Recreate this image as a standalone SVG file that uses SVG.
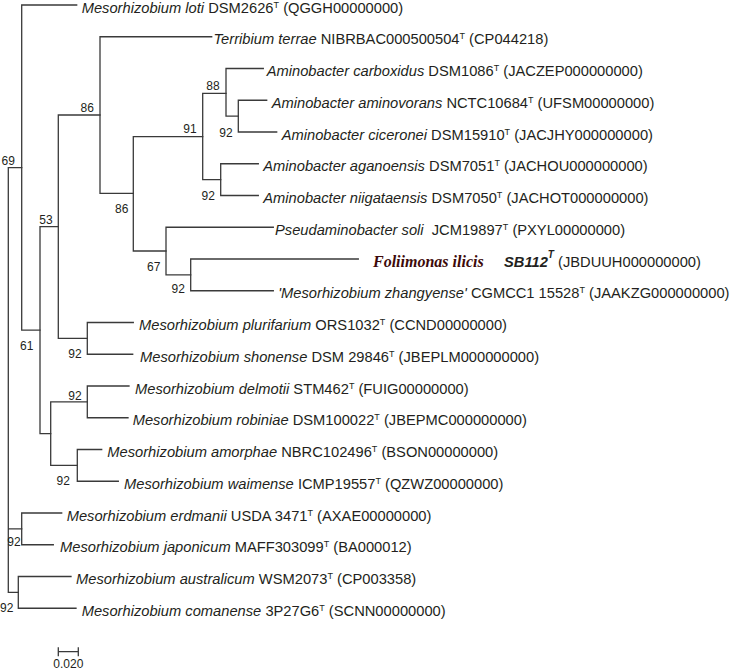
<svg xmlns="http://www.w3.org/2000/svg" width="735" height="671" viewBox="0 0 735 671">
<style>
.br{fill:none;stroke:#3a3a3a;stroke-width:1.3;stroke-linecap:square}
.tx{font-family:"Liberation Sans",Arial,sans-serif;font-size:14.7px;fill:#231f20}
.it{font-style:italic}
.sup{font-size:9px}
.bs{font-family:"Liberation Sans",Arial,sans-serif;font-size:12px;fill:#231f20;text-anchor:middle}
.fol{font-family:"Liberation Serif","Times New Roman",serif;font-size:16px;font-weight:bold;font-style:italic;fill:#3d0a0a}
.bi{font-weight:bold;font-style:italic}
</style>
<rect width="735" height="671" fill="#ffffff"/>
<g id="connectors">
<path class="br" d="M8.3,167.6V592.4M8.3,167.6H21.7M8.3,528.9H21.7M8.3,592.4H18.3"/>
<path class="br" d="M21.7,5V330.2M21.7,5H76.7M21.7,330.2H40"/>
<path class="br" d="M40,226.7V433.6M40,226.7H58.3M40,433.6H50.7"/>
<path class="br" d="M58.3,115V338.4M58.3,115H100M58.3,338.4H87.3"/>
<path class="br" d="M100,36.75V193.3M100,36.75H211.7M100,193.3H133.3"/>
<path class="br" d="M133.3,136.7V251M133.3,136.7H202.7M133.3,251H166"/>
<path class="br" d="M202.7,93.3V179.6M202.7,93.3H226M202.7,179.6H220.7"/>
<path class="br" d="M226,68.5V116.1M226,68.5H263.3M226,116.1H238.3"/>
<path class="br" d="M238.3,100.25V132M238.3,100.25H266.7M238.3,132H276.7"/>
<path class="br" d="M220.7,163.75V195.5M220.7,163.75H258.3M220.7,195.5H258.3"/>
<path class="br" d="M166,227.25V274.9M166,227.25H273.3M166,274.9H190.7"/>
<path class="br" d="M190.7,259V290.75M190.7,259H358.3M190.7,290.75H273.3"/>
<path class="br" d="M87.3,322.5V354.25M87.3,322.5H133.3M87.3,354.25H132.7"/>
<path class="br" d="M50.7,401.9V465.4M50.7,401.9H87.3M50.7,465.4H77.3"/>
<path class="br" d="M87.3,386V417.75M87.3,386H129M87.3,417.75H128"/>
<path class="br" d="M77.3,449.5V481.25M77.3,449.5H101.7M77.3,481.25H118.3"/>
<path class="br" d="M21.7,513V544.75M21.7,513H61.7M21.7,544.75H53.3"/>
<path class="br" d="M18.3,576.5V608.25M18.3,576.5H71M18.3,608.25H76"/>
</g>
<g id="bootstrap">
<text class="bs" x="8.3" y="165">69</text>
<text class="bs" x="87.3" y="112.3">86</text>
<text class="bs" x="213" y="90">88</text>
<text class="bs" x="190" y="133.3">91</text>
<text class="bs" x="226" y="136.7">92</text>
<text class="bs" x="121.7" y="213">86</text>
<text class="bs" x="208.3" y="200">92</text>
<text class="bs" x="46" y="224.3">53</text>
<text class="bs" x="153.7" y="270.7">67</text>
<text class="bs" x="178.3" y="293.3">92</text>
<text class="bs" x="26.7" y="350">61</text>
<text class="bs" x="75" y="358.3">92</text>
<text class="bs" x="75" y="399.5">92</text>
<text class="bs" x="63.3" y="485">92</text>
<text class="bs" x="14" y="546">92</text>
<text class="bs" x="6.7" y="611.7">92</text>
</g>
<g id="loti"><text class="tx" x="81.7" y="12.5"><tspan class="it">Mesorhizobium loti</tspan> DSM2626<tspan class="sup" dy="-5">T</tspan><tspan dy="5"> (QGGH00000000)</tspan></text></g>
<g id="terrae"><text class="tx" x="213.5" y="44.25"><tspan class="it">Terribium terrae</tspan> NIBRBAC000500504<tspan class="sup" dy="-5">T</tspan><tspan dy="5"> (CP044218)</tspan></text></g>
<g id="carboxidus"><text class="tx" x="266.7" y="76"><tspan class="it">Aminobacter carboxidus</tspan> DSM1086<tspan class="sup" dy="-5">T</tspan><tspan dy="5"> (JACZEP000000000)</tspan></text></g>
<g id="aminovorans"><text class="tx" x="271.7" y="107.75"><tspan class="it">Aminobacter aminovorans</tspan> NCTC10684<tspan class="sup" dy="-5">T</tspan><tspan dy="5"> (UFSM00000000)</tspan></text></g>
<g id="ciceronei"><text class="tx" x="281.7" y="139.5"><tspan class="it">Aminobacter ciceronei</tspan> DSM15910<tspan class="sup" dy="-5">T</tspan><tspan dy="5"> (JACJHY000000000)</tspan></text></g>
<g id="aganoensis"><text class="tx" x="263.3" y="171.25"><tspan class="it">Aminobacter aganoensis</tspan> DSM7051<tspan class="sup" dy="-5">T</tspan><tspan dy="5"> (JACHOU000000000)</tspan></text></g>
<g id="niigataensis"><text class="tx" x="263.3" y="203"><tspan class="it">Aminobacter niigataensis</tspan> DSM7050<tspan class="sup" dy="-5">T</tspan><tspan dy="5"> (JACHOT000000000)</tspan></text></g>
<g id="pseudaminobacter"><text class="tx" x="275" y="234.75"><tspan class="it">Pseudaminobacter soli</tspan>&#160; JCM19897<tspan class="sup" dy="-5">T</tspan><tspan dy="5"> (PXYL00000000)</tspan></text></g>
<g id="foliimonas"><text class="fol" x="373" y="266.5">Foliimonas ilicis</text><text class="tx" x="504" y="266.5"><tspan class="bi">SB112</tspan><tspan class="bi" font-size="10" dy="-9">T</tspan><tspan dy="9"> (JBDUUH000000000)</tspan></text></g>
<g id="zhangyense"><text class="tx" x="278.3" y="298.25"><tspan class="it">'Mesorhizobium zhangyense'</tspan> CGMCC1 15528<tspan class="sup" dy="-5">T</tspan><tspan dy="5"> (JAAKZG000000000)</tspan></text></g>
<g id="plurifarium"><text class="tx" x="139" y="330"><tspan class="it">Mesorhizobium plurifarium</tspan> ORS1032<tspan class="sup" dy="-5">T</tspan><tspan dy="5"> (CCND00000000)</tspan></text></g>
<g id="shonense"><text class="tx" x="140" y="361.75"><tspan class="it">Mesorhizobium shonense</tspan> DSM 29846<tspan class="sup" dy="-5">T</tspan><tspan dy="5"> (JBEPLM000000000)</tspan></text></g>
<g id="delmotii"><text class="tx" x="135" y="393.5"><tspan class="it">Mesorhizobium delmotii</tspan> STM462<tspan class="sup" dy="-5">T</tspan><tspan dy="5"> (FUIG00000000)</tspan></text></g>
<g id="robiniae"><text class="tx" x="132.7" y="425.25"><tspan class="it">Mesorhizobium robiniae</tspan> DSM100022<tspan class="sup" dy="-5">T</tspan><tspan dy="5"> (JBEPMC000000000)</tspan></text></g>
<g id="amorphae"><text class="tx" x="107.3" y="457"><tspan class="it">Mesorhizobium amorphae</tspan> NBRC102496<tspan class="sup" dy="-5">T</tspan><tspan dy="5"> (BSON00000000)</tspan></text></g>
<g id="waimense"><text class="tx" x="124" y="488.75"><tspan class="it">Mesorhizobium waimense</tspan> ICMP19557<tspan class="sup" dy="-5">T</tspan><tspan dy="5"> (QZWZ00000000)</tspan></text></g>
<g id="erdmanii"><text class="tx" x="66.7" y="520.5"><tspan class="it">Mesorhizobium erdmanii</tspan> USDA 3471<tspan class="sup" dy="-5">T</tspan><tspan dy="5"> (AXAE00000000)</tspan></text></g>
<g id="japonicum"><text class="tx" x="60" y="552.25"><tspan class="it">Mesorhizobium japonicum</tspan> MAFF303099<tspan class="sup" dy="-5">T</tspan><tspan dy="5"> (BA000012)</tspan></text></g>
<g id="australicum"><text class="tx" x="76" y="584"><tspan class="it">Mesorhizobium australicum</tspan> WSM2073<tspan class="sup" dy="-5">T</tspan><tspan dy="5"> (CP003358)</tspan></text></g>
<g id="comanense"><text class="tx" x="81.7" y="615.75"><tspan class="it">Mesorhizobium comanense</tspan> 3P27G6<tspan class="sup" dy="-5">T</tspan><tspan dy="5"> (SCNN00000000)</tspan></text></g>
<g id="scalebar">
<path class="br" d="M58.3,651.7H78.3M58.3,648V655.5M78.3,648V655.5"/>
<text class="bs" x="68.3" y="667.5">0.020</text>
</g>
</svg>
